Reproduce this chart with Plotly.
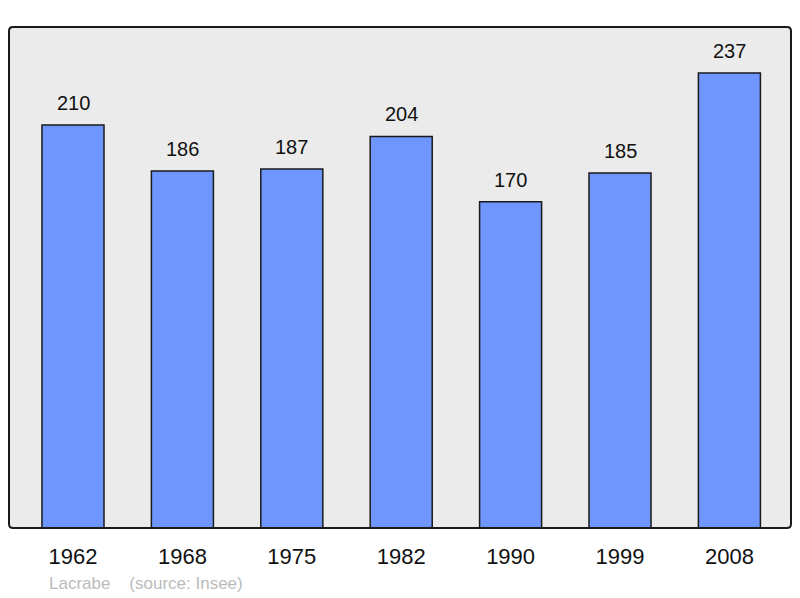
import plotly.graph_objects as go

years = ["1962", "1968", "1975", "1982", "1990", "1999", "2008"]
population = [210, 186, 187, 204, 170, 185, 237]
commune = "Lacrabe"
source = "(source: Insee)"

W, H = 792, 590
L, R, T, B = 1, 9, 19, 70
PW, PH = W - L - R, H - T - B

fig = go.Figure()
fig.add_trace(go.Bar(
    x=list(range(len(years))), y=population, width=0.567,
    marker=dict(color="#6f96ff", line=dict(color="#1a1a1a", width=1.5)),
    hoverinfo="skip",
))

for i, v in enumerate(population):
    fig.add_annotation(x=i, y=v, text=str(v), showarrow=False,
                       yanchor="middle", yshift=22,
                       font=dict(family="Liberation Sans, Arial", size=20, color="#111111"))

fig.add_annotation(xref="paper", yref="paper", x=(38) / PW, y=-(55) / PH,
                   xanchor="left", yanchor="middle", showarrow=False,
                   text=commune + "\u00a0\u00a0\u00a0\u00a0" + source,
                   font=dict(family="Liberation Sans, Arial", size=17, color="#bbbbbb"))

# rounded frame
rx, ry = 4 / PW, 4 / PH
path = (f"M {rx},0 L {1-rx},0 Q 1,0 1,{ry} L 1,{1-ry} Q 1,1 {1-rx},1 "
        f"L {rx},1 Q 0,1 0,{1-ry} L 0,{ry} Q 0,0 {rx},0 Z")
fig.add_shape(type="path", xref="paper", yref="paper", path=path,
              line=dict(color="#1a1a1a", width=2), layer="above")

fig.update_layout(
    width=W, height=H,
    margin=dict(l=L, r=R, t=T, b=B),
    paper_bgcolor="white", plot_bgcolor="#ebebeb",
    showlegend=False,
    xaxis=dict(range=[-0.585, 6.563], tickmode="array", tickvals=list(range(len(years))),
               ticktext=years, showgrid=False, zeroline=False, showline=False,
               ticks="outside", ticklen=9, tickcolor="rgba(0,0,0,0)",
               tickfont=dict(family="Liberation Sans, Arial", size=22, color="#111111")),
    yaxis=dict(range=[0, 261], showgrid=False, zeroline=False, showline=False,
               showticklabels=False, ticks=""),
)

fig.write_html("out.html")
